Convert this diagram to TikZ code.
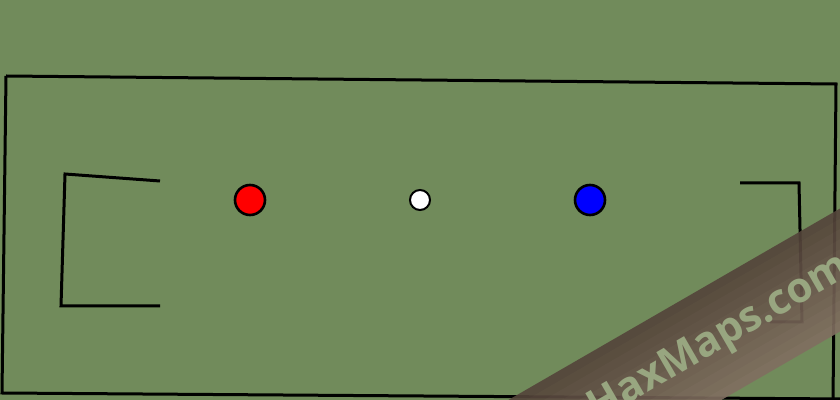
\documentclass[tikz,border=0pt]{standalone}
\usepackage{fontspec}
\usepackage{xcolor}
\usepackage{tikz}
\newfontfamily\markfont{Open Sans}
\usetikzlibrary{positioning}
\definecolor{pitch}{RGB}{113,139,91}
\definecolor{bandtop}{RGB}{84,68,58}
\definecolor{bandbot}{RGB}{128,110,96}
\definecolor{marktext}{RGB}{152,166,128}
\tikzset{
  wall/.style={line width=1.5pt, black, line join=miter},
  disc/.style={circle, draw=black, line width=1.3pt, inner sep=0pt, minimum size=15pt}
}

\begin{document}
\begin{tikzpicture}[x=0.5pt, y=-0.5pt]
      \useasboundingbox (0,0) rectangle (840,400);
      \clip (0,0) rectangle (840,400);
      \fill[pitch] (0,0) rectangle (840,400);
      % outer line of the pitch
      \draw[wall] (6,76) -- (836,84) -- (833,402);
      \draw[wall] (6,76) -- (2,393) -- (845,399);
      % goals
      \draw[wall] (160,181) -- (65,174) -- (61,306) -- (160,306);
      \draw[wall] (740,183) -- (799,183) -- (802,322) -- (770,322);
      % players and ball
      \node[disc, fill=red] (redone) at (250,200) {};
      \node[disc, fill=white, minimum size=10pt, line width=1pt] (ball) at (420,200) {};
      \node[disc, fill=blue] (blueone) at (590,200) {};
      % watermark band, darker at its upper edge
      \begin{scope}[shift={(720,339)}, rotate=30]
        \begin{scope}[transparency group, opacity=0.9]
        \foreach \k in {0,...,11}
          \fill[bandtop!\the\numexpr100-\k*9\relax!bandbot] (-420,{-53+\k*106/12}) rectangle (420,{-53+(\k+1)*106/12+0.5});
        \end{scope}
        \node[rotate=30, font=\markfont\bfseries\fontsize{21}{21}\selectfont, text=marktext] (mark) at (0,0)
          {HaxMaps.com};
      \end{scope}
\end{tikzpicture}
\end{document}
